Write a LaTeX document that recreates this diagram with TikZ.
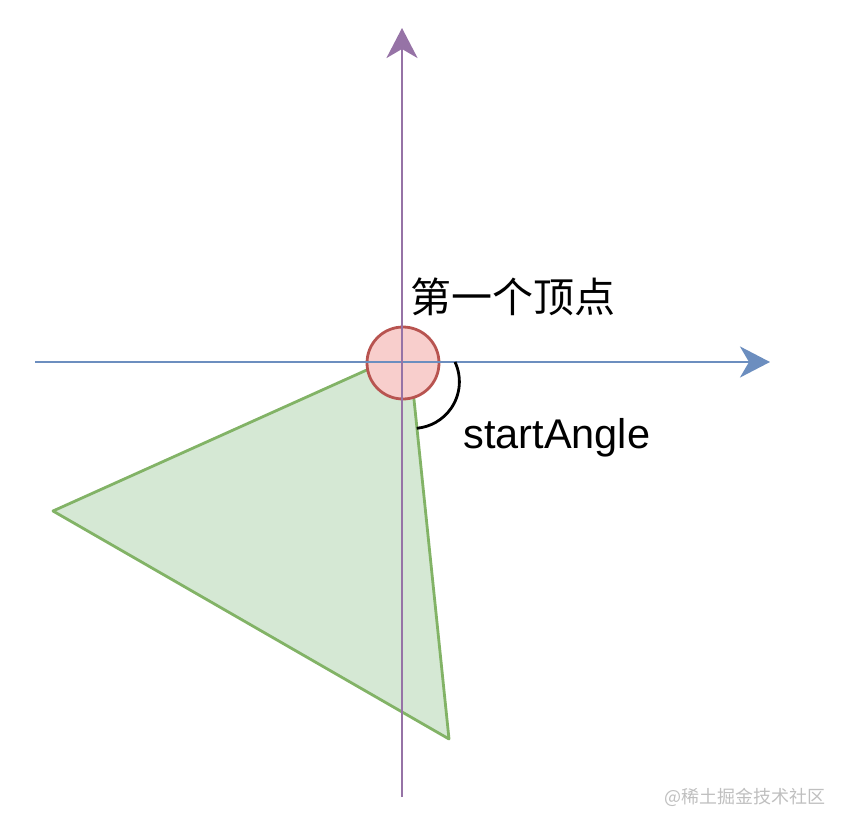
\documentclass[tikz,border=0pt]{standalone}
\usepackage{fontspec}
\setmainfont{Liberation Sans}
\newfontfamily\cjk{Noto Sans CJK SC}
\usetikzlibrary{arrows.meta}
\definecolor{axisblue}{HTML}{6C8EBF}
\definecolor{axispurple}{HTML}{9673A6}
\definecolor{vtxfill}{HTML}{F8CECC}
\definecolor{vtxline}{HTML}{B85450}
\definecolor{trifill}{HTML}{D5E8D4}
\definecolor{triline}{HTML}{82B366}
\begin{document}
\begin{tikzpicture}[x=1pt, y=-1pt, line width=2.8pt, line join=round,
  >={Stealth[length=30pt, width=31pt, inset=9pt]}]
			\useasboundingbox (0,0) rectangle (848,830);
			% shape and first vertex
			\fill[trifill, draw=triline] (409,351) -- (53,511) -- (449,739) -- cycle;
			\node[circle, draw=vtxline, fill=vtxfill, minimum size=72pt, inner sep=0pt] (vtx) at (403,363) {};
			% axes
			\coordinate (xl) at (35,362);
			\coordinate (xr) at (770,362);
			\coordinate (yb) at (402,797);
			\coordinate (yt) at (402,28);
			\draw[axisblue, ->] (xl) -- (xr);
			\draw[axispurple, ->] (yb) -- (yt);
			% angle mark
			\draw[black] (455,362) arc[start angle=-25, end angle=85, radius=46.7];
			\node[anchor=west, inner sep=0pt, font=\fontsize{41}{41}\selectfont\cjk] (first) at (409,297) {第一个顶点};
			\node[anchor=west, inner sep=0pt, font=\fontsize{41.5}{41.5}\selectfont] (angle) at (462,438) {startAngle};
			\node[text=black!25, inner sep=0pt, font=\fontsize{18}{18}\selectfont\cjk] (mark) at (745,797) {@稀土掘金技术社区};
		\end{tikzpicture}
\end{document}
